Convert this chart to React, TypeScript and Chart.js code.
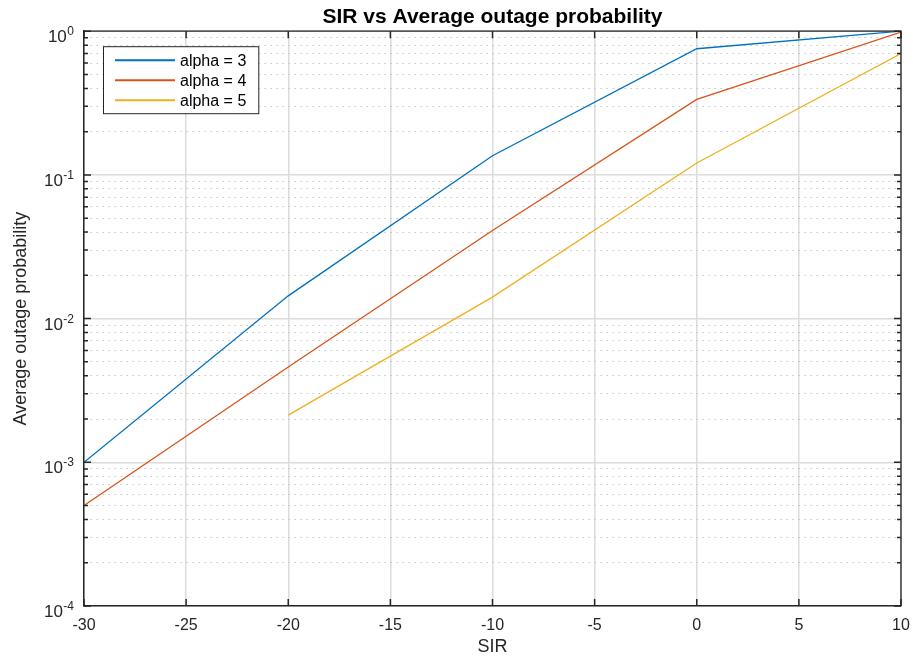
import React, { useEffect, useRef } from "react";
import { Chart, registerables } from "chart.js";

Chart.register(...registerables);

const sirValues = [-30, -20, -10, 0, 10];
const alpha3 = [0.001, 0.0144, 0.136, 0.755, 1.0];
const alpha4 = [0.0005, 0.0046, 0.041, 0.335, 0.985];
const alpha5 = [null, 0.00213, 0.0141, 0.121, 0.7];
const seriesLabels = ["alpha = 3", "alpha = 4", "alpha = 5"];
const seriesColors = ["#0072BD", "#D95319", "#EDB120"];
const xTicks = [-30, -25, -20, -15, -10, -5, 0, 5, 10];
const yDecades = [-4, -3, -2, -1, 0];

const FONT = "'Liberation Sans', Arial, Helvetica, sans-serif";
const AXIS = "#262626";

const isDecade = (v: number) => {
  const l = Math.log10(v);
  return Math.abs(l - Math.round(l)) < 1e-9;
};

const boxPlugin = {
  id: "matlabBox",
  afterDatasetsDraw(chart: any) {
    const { ctx, chartArea: a, scales } = chart;
    ctx.save();
    // top & right box lines
    ctx.strokeStyle = AXIS;
    ctx.lineWidth = 1.3;
    ctx.beginPath();
    ctx.moveTo(a.left, a.top);
    ctx.lineTo(a.right, a.top);
    ctx.lineTo(a.right, a.bottom);
    ctx.stroke();
    // inward ticks
    ctx.lineWidth = 1.5;
    ctx.beginPath();
    for (const t of scales.x.ticks) {
      const px = scales.x.getPixelForValue(t.value);
      ctx.moveTo(px, a.bottom);
      ctx.lineTo(px, a.bottom - 7);
      ctx.moveTo(px, a.top);
      ctx.lineTo(px, a.top + 7);
    }
    for (const t of scales.y.ticks) {
      const py = scales.y.getPixelForValue(t.value);
      const len = isDecade(t.value) ? 7 : 4;
      ctx.moveTo(a.left, py);
      ctx.lineTo(a.left + len, py);
      ctx.moveTo(a.right, py);
      ctx.lineTo(a.right - len, py);
    }
    ctx.stroke();

    // y tick labels: 10 with raised exponent
    ctx.fillStyle = AXIS;
    ctx.textAlign = "right";
    ctx.textBaseline = "alphabetic";
    for (const t of scales.y.ticks) {
      if (!isDecade(t.value)) continue;
      const e = Math.round(Math.log10(t.value));
      const py = scales.y.getPixelForValue(t.value);
      const right = a.left - 10;
      ctx.font = `12px ${FONT}`;
      const expTxt = String(e);
      const ew = ctx.measureText(expTxt).width;
      ctx.fillText(expTxt, right, py + 4);
      ctx.font = `17px ${FONT}`;
      ctx.fillText("10", right - ew - 0.5, py + 11);
    }

    // legend
    const ds = chart.data.datasets;
    ctx.font = `16px ${FONT}`;
    let maxW = 0;
    ds.forEach((d: any) => (maxW = Math.max(maxW, ctx.measureText(d.label).width)));
    const bx = a.left + 19;
    const by = a.top + 15;
    const bw = 12 + 60 + 5 + maxW + 12;
    const rowH = 20;
    const bh = ds.length * rowH + 7;
    ctx.fillStyle = "#ffffff";
    ctx.fillRect(bx, by, bw, bh);
    ctx.strokeStyle = AXIS;
    ctx.lineWidth = 1;
    ctx.strokeRect(bx + 0.5, by + 0.5, bw, bh);
    ds.forEach((d: any, i: number) => {
      const cy = by + 14 + i * rowH;
      ctx.strokeStyle = d.borderColor;
      ctx.lineWidth = 2;
      ctx.beginPath();
      ctx.moveTo(bx + 12, cy);
      ctx.lineTo(bx + 72, cy);
      ctx.stroke();
      ctx.fillStyle = "#000000";
      ctx.textBaseline = "middle";
      ctx.textAlign = "left";
      ctx.fillText(d.label, bx + 77, cy + 1);
    });
    ctx.restore();
  },
};

export default function App() {
  const ref = useRef<HTMLCanvasElement | null>(null);

  useEffect(() => {
    if (!ref.current) return;
    Chart.defaults.font.family = FONT;
    const series = [alpha3, alpha4, alpha5];
    const chart = new Chart(ref.current, {
      type: "line",
      data: {
        datasets: series.map((vals, i) => ({
          label: seriesLabels[i],
          data: sirValues.map((x, j) => ({ x, y: vals[j] })),
          borderColor: seriesColors[i],
          backgroundColor: seriesColors[i],
          borderWidth: 1.3,
          pointRadius: 0,
          tension: 0,
          spanGaps: false,
        })),
      },
      options: {
        responsive: false,
        animation: false,
        layout: { padding: { top: 0, right: 12, left: 0, bottom: 0 } },
        plugins: {
          legend: { display: false },
          tooltip: { enabled: false },
          title: {
            display: true,
            fullSize: false,
            text: "SIR vs Average outage probability",
            color: "#000000",
            font: { size: 21, weight: "bold", family: FONT },
            padding: { top: 5, bottom: 1 },
          },
        },
        scales: {
          x: {
            type: "linear",
            min: -30,
            max: 10,
            afterBuildTicks: (s: any) => {
              s.ticks = xTicks.map((v) => ({ value: v }));
            },
            afterFit: (s: any) => {
              s.height = 50;
              s.paddingLeft = 0;
              s.paddingRight = 0;
            },
            ticks: {
              color: AXIS,
              font: { size: 16, family: FONT },
              padding: 10,
              maxRotation: 0,
              autoSkip: false,
              callback: (v: any) => String(v),
            },
            grid: {
              drawTicks: false,
              color: "#dcdcdc",
              lineWidth: 1.5,
            },
            border: { display: true, color: AXIS, width: 1.5 },
            title: {
              display: true,
              text: "SIR",
              color: AXIS,
              font: { size: 18, family: FONT },
              padding: { top: 0, bottom: -2 },
            },
          },
          y: {
            type: "logarithmic",
            min: 1e-4,
            max: 1,
            afterBuildTicks: (s: any) => {
              const t: any[] = [];
              yDecades.forEach((e) => {
                const maxM = e === 0 ? 1 : 9;
                for (let m = 1; m <= maxM; m++) {
                  const v = Number((m * Math.pow(10, e)).toPrecision(6));
                  t.push({ value: v, major: m === 1 });
                }
              });
              s.ticks = t;
            },
            afterFit: (s: any) => {
              s.width = 84;
            },
            ticks: { display: false, autoSkip: false },
            grid: {
              drawTicks: false,
              color: (c: any) => (c.tick && isDecade(c.tick.value) ? "#dcdcdc" : "#c4c4c4"),
              lineWidth: (c: any) => (c.tick && isDecade(c.tick.value) ? 1.5 : 1),
            },
            border: {
              display: true,
              color: AXIS,
              width: 1.5,
              dash: (c: any) => (c.tick && !isDecade(c.tick.value) ? [1.5, 4.5] : []),
            },
            title: {
              display: true,
              text: "Average outage probability",
              color: AXIS,
              font: { size: 18, family: FONT },
              padding: { top: 10, bottom: 0 },
            },
          },
        },
      },
      plugins: [boxPlugin],
    } as any);
    return () => chart.destroy();
  }, []);

  return (
    <div style={{ position: "absolute", left: 0, top: 0, width: 913, height: 656, background: "#fff" }}>
      <canvas ref={ref} width={913} height={656} style={{ width: 913, height: 656, display: "block" }} />
    </div>
  );
}
